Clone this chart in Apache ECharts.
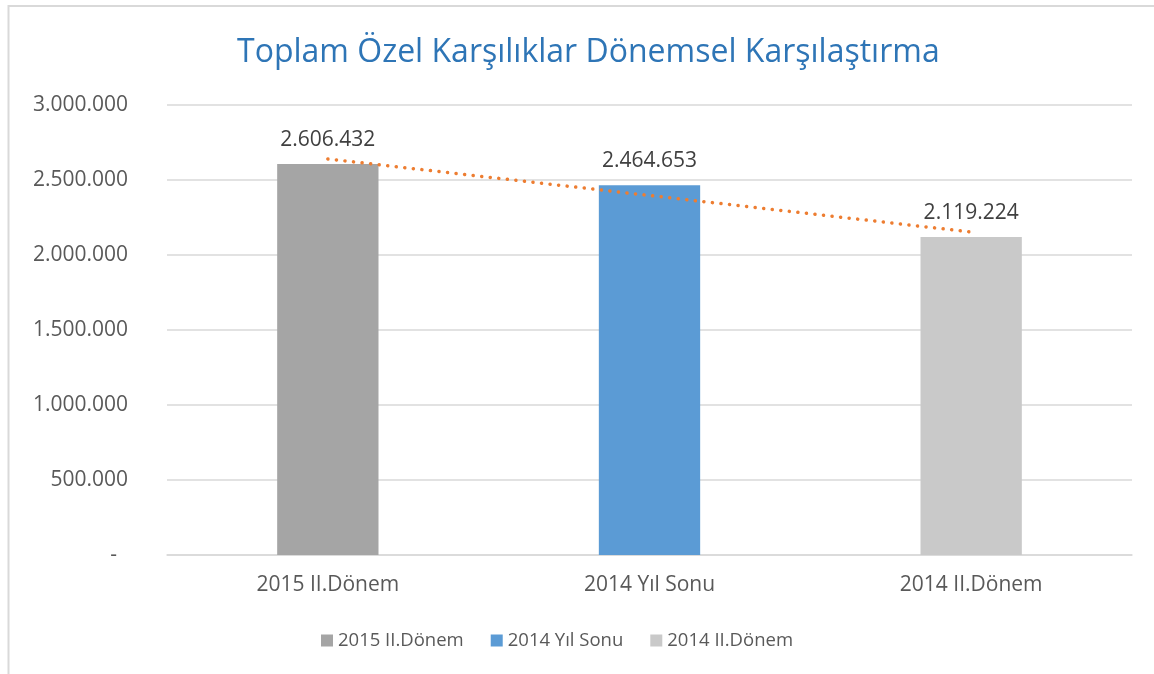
<!DOCTYPE html>
<html>
<head>
<meta charset="utf-8">
<script src="https://cdn.jsdelivr.net/npm/echarts@6/dist/echarts.min.js"></script>
<style>
html,body{margin:0;padding:0;background:#fff;}
#c{width:1154px;height:674px;}
</style>
</head>
<body>
<div id="c"></div>
<script>
const title = 'Toplam Özel Karşılıklar Dönemsel Karşılaştırma';
const categories = ['2015 II.Dönem', '2014 Yıl Sonu', '2014 II.Dönem'];
const values = [2606432, 2464653, 2119224];
const trendValues = [2640374, 2396770, 2153166];
const barColors = ['#A5A5A5', '#5B9BD5', '#C9C9C9'];
const yTicks = [0, 500000, 1000000, 1500000, 2000000, 2500000, 3000000];

const FONT = '"Open Sans", "Noto Sans", sans-serif';
function fmt(v) {
  if (v === 0) return '-  ';
  return String(Math.round(v)).replace(/\B(?=(\d{3})+(?!\d))/g, '.');
}

const barSeries = categories.map((name, i) => ({
  name: name,
  type: 'bar',
  stack: 'bars',
  barWidth: '31.5%',
  itemStyle: { color: barColors[i] },
  data: categories.map((c, j) => (j === i ? values[j] : '-')),
  label: {
    show: true,
    position: 'top',
    distance: 14,
    fontFamily: FONT,
    fontSize: 21,
    color: '#404040',
    formatter: p => fmt(p.value)
  },
  emphasis: { disabled: true }
}));

const chart = echarts.init(document.getElementById('c'), null, { renderer: 'canvas' });
chart.setOption({
  animation: false,
  backgroundColor: '#fff',
  title: {
    text: title,
    left: 232,
    top: 32,
    textStyle: { fontFamily: FONT, fontSize: 32, fontWeight: 'normal', color: '#2E75B6' }
  },
  legend: {
    data: categories,
    top: 626,
    left: 316,
    itemWidth: 12,
    itemHeight: 12,
    itemGap: 27,
    icon: 'rect',
    textStyle: { fontFamily: FONT, fontSize: 18.5, color: '#595959' },
    selectedMode: false
  },
  grid: { left: 167, right: 22, top: 105, bottom: 119, containLabel: false },
  xAxis: {
    type: 'category',
    data: categories,
    axisLine: { show: true, lineStyle: { color: '#D9D9D9', width: 1.5 } },
    axisTick: { show: false },
    axisLabel: { margin: 20, fontFamily: FONT, fontSize: 21, color: '#595959' }
  },
  yAxis: {
    type: 'value',
    min: yTicks[0],
    max: yTicks[yTicks.length - 1],
    interval: yTicks[1] - yTicks[0],
    axisLine: { show: false },
    axisTick: { show: false },
    splitLine: { lineStyle: { color: '#D9D9D9', width: 1.5 } },
    axisLabel: { margin: 39, fontFamily: FONT, fontSize: 21, color: '#595959', formatter: fmt }
  },
  graphic: [{
    type: 'rect',
    silent: true,
    shape: { x: 8.5, y: 6, width: 1300, height: 800 },
    style: { fill: 'none', stroke: '#D9D9D9', lineWidth: 2 }
  }],
  series: barSeries.concat([{
    name: 'Trend',
    type: 'line',
    data: trendValues,
    symbol: 'none',
    silent: true,
    z: 5,
    lineStyle: { color: '#ED7D31', width: 3.5, type: [0.1, 8.5], cap: 'round' }
  }])
});
</script>
</body>
</html>
